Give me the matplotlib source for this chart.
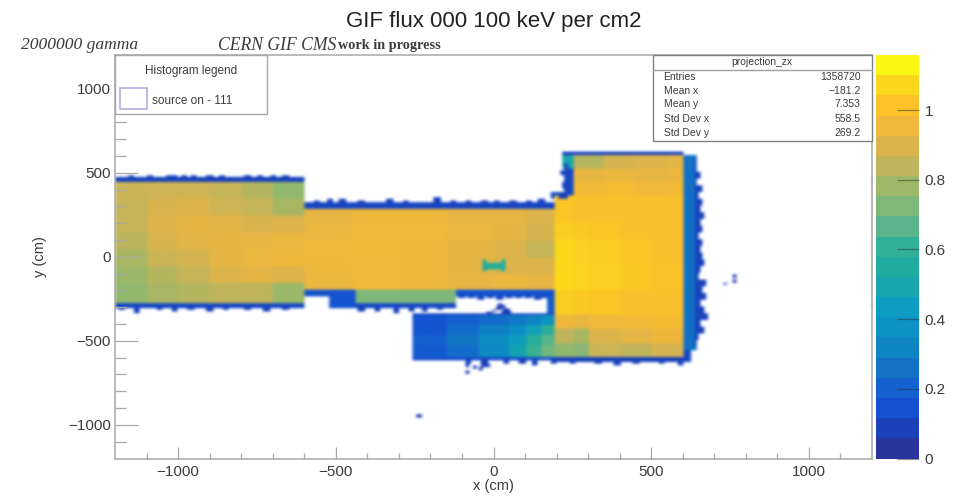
import numpy as np
import matplotlib
matplotlib.use("Agg")
import matplotlib.pyplot as plt
from matplotlib.colors import ListedColormap, LinearSegmentedColormap, Normalize
from matplotlib.patches import Rectangle

W, H = 966, 499
TEXT = "#3c3c3c"
AXIS = "#a8a8a8"

title = "GIF flux 000 100 keV per cm2"
stats_names = ["Entries", "Mean x", "Mean y", "Std Dev x", "Std Dev y"]
stats_values = ["1358720", "\u2212181.2", "7.353", "558.5", "269.2"]

# palette bands, bottom to top of the colour bar
band_colors = ["#2a349e", "#1b40b8", "#1450d0", "#1462d0", "#1272c6", "#0f85c4", "#0c92c4",
               "#0c9dc0", "#18a5ad", "#20aba0", "#30b096", "#5cb58a", "#80b87a", "#9cb868",
               "#c0b45c", "#dcb44c", "#f0b83c", "#fcc228", "#fcd81c", "#fcf614"]
z_max = 1.158

# interior blocks read by eye: x edges, y edges (top down), values
left_x = [-1200, -1100, -1000, -900, -800, -700, -600]
left_y = [442, 340, 240, 140, 40, -60, -160, -280]
left_v = [[.86, .87, .87, .85, .82, .76],
          [.85, .89, .90, .87, .85, .80],
          [.85, .90, .92, .91, .89, .90],
          [.83, .89, .91, .92, .93, .94],
          [.80, .86, .88, .92, .94, .95],
          [.78, .82, .85, .90, .92, .90],
          [.76, .80, .82, .84, .84, .78]]

mid_x = [-600, -450, -300, -150, 0, 100, 195]
mid_y = [284, 190, 90, -10, -110, -200]
mid_v = [[.93, .95, .95, .93, .93, .90],
         [.94, .96, .96, .94, .92, .88],
         [.96, .97, .95, .92, .90, .85],
         [.95, .96, .95, .92, .90, .90],
         [.94, .96, .95, .93, .94, .93]]

upper_x = [252, 350, 450, 550, 600]
upper_y = [596, 520, 440, 357]
upper_v = [[.82, .88, .90, .92],
           [.93, .94, .93, .94],
           [.97, .98, .96, .97]]

right_x = [195, 250, 300, 400, 500, 600]
right_y = [357, 200, 100, -50, -200, -350, -430, -520, -600]
right_v = [[1.02, 1.00, 1.00, 1.00, 1.00],
           [1.04, 1.03, 1.02, 1.00, 1.00],
           [1.07, 1.05, 1.04, 1.02, 1.00],
           [1.07, 1.06, 1.05, 1.03, 1.01],
           [1.04, 1.03, 1.02, 1.00, 1.00],
           [.95, .93, .96, .97, .98],
           [.84, .80, .90, .92, .95],
           [.76, .74, .86, .84, .88]]

lower_x = [-255, -150, -50, 50, 100, 150, 195]
lower_y = [-350, -410, -470, -530, -600]
lower_v = [[.16, .20, .24, .28, .32, .38],
           [.16, .24, .30, .36, .46, .60],
           [.20, .28, .36, .44, .58, .66],
           [.18, .24, .34, .48, .62, .70]]

# flat parts: x0, x1, y0, y1, value
flat_x0 = [-1200, -600, 217, 180, 228, -600, -1200, -520, -440, -440, -120, 170,
           -255, -255, 195, 600, 600, -38, -22, 22, 217]
flat_x1 = [-600, 190, 600, 252, 252, -440, -600, -440, -120, -120, 190, 190,
           190, 190, 600, 640, 622, -22, 22, 37, 252]
flat_y0 = [442, 284, 596, 340, 357, -240, -310, -310, -305, -278, -240, -350,
           -615, -350, -625, -560, -625, -93, -80, -93, 520]
flat_y1 = [470, 318, 618, 380, 520, -200, -280, -240, -278, -200, -200, -235,
           -350, -335, -600, 600, -560, -21, -35, -21, 596]
flat_v = [.10, .12, .10, .14, .12, .16, .12, .16, .12, .72, .16, .18,
          .14, .10, .10, .26, .12, .55, .58, .55, .50]

# ragged outer rim, one bump per entry
top_x = [-1150, -1090, -1030, -1010, -980, -950, -900, -860, -780, -740, -700, -660,
         -560, -520, -480, -420, -330, -280, -210, -180, -130, -80, -30, 10, 60, 110, 150]
top_y = [480, 478, 476, 484, 476, 480, 484, 478, 476, 480, 476, 476,
         332, 336, 340, 328, 336, 328, 324, 352, 330, 332, 326, 330, 332, 330, 336]
bottom_x = [-1180, -1130, -1060, -1010, -960, -900, -850, -780, -720, -660, -420, -370,
            -310, -260, -220, -170, -80, -30, 40, 90, 130, 190, 250, 330, 390, 450, 530, 590]
bottom_y = [-322, -340, -320, -326, -318, -328, -316, -322, -330, -320, -330, -326,
            -340, -325, -330, -318, -640, -660, -640, -640, -652, -636, -640, -638, -645, -636, -640, -648]
rim_y = [600, 560, 520, 480, 440, 400, 360, 320, 280, 240, 200, 160, 120, 80, 40, 0, -40, -80,
         -120, -160, -200, -240, -280, -320, -360, -400, -440, -480, -520, -560, -600]
rim_x = [625, 645, 640, 655, 645, 660, 650, 662, 655, 665, 652, 660, 648, 662, 652, 660, 668, 655,
         650, 670, 660, 672, 652, 664, 678, 655, 668, 650, 640, 628, 618]
left_rim_y = [360, 385, 420, 460, 495, 530]
left_rim_x = [205, 222, 216, 222, 210, 222]

# loose hits outside the body
stray_x = [763, 763, 733, -236, -84, -84, -60, -40, -20, 30, -30, -15, 0, 15, 30, 40, 52, 20, 45]
stray_y = [-117, -152, -165, -950, -650, -690, -660, -670, -650, -330, -345, -335, -325, -310, -300, -315, -345, -290, -330]
gap_x = [-100, -70, -40, -10, 20, 50, 80, 110, 140, 160]
gap_y = [-252, -246, -255, -248, -260, -246, -254, -248, -258, -250]

bin_x = np.arange(-1200, 1201, 6)
bin_y = np.arange(-1200, 1201, 10)


def make_grid():
    z = np.full((len(bin_y) - 1, len(bin_x) - 1), np.nan)
    cx = (bin_x[:-1] + bin_x[1:]) / 2
    cy = (bin_y[:-1] + bin_y[1:]) / 2

    def paint(x0, x1, y0, y1, v):
        ix = (cx >= x0) & (cx < x1)
        iy = (cy >= y0) & (cy < y1)
        z[np.ix_(iy, ix)] = v

    n_base = 15
    for i in range(n_base):
        paint(flat_x0[i], flat_x1[i], flat_y0[i], flat_y1[i], flat_v[i])
    for xs, ys, vs in [(left_x, left_y, left_v), (mid_x, mid_y, mid_v), (upper_x, upper_y, upper_v),
                       (right_x, right_y, right_v), (lower_x, lower_y, lower_v)]:
        for r in range(len(vs)):
            for c in range(len(vs[r])):
                paint(xs[c], xs[c + 1], ys[r + 1], ys[r], vs[r][c])
    for i in range(n_base, len(flat_v)):
        paint(flat_x0[i], flat_x1[i], flat_y0[i], flat_y1[i], flat_v[i])
    for x, y in zip(top_x, top_y):
        base = 442 if x < -600 else 284
        paint(x - 10, x + 10, base + 10, y, .10)
    for x, y in zip(bottom_x, bottom_y):
        base = -300 if y > -500 else -605
        paint(x - 10, x + 10, y, base, .10)
    for x, y in zip(gap_x, gap_y):
        paint(x - 12, x + 12, y, -230, .12)
    for x, y in zip(rim_x, rim_y):
        paint(638, x, y - 20, y + 20, .10)
    for x, y in zip(left_rim_x, left_rim_y):
        paint(x, 232, y - 18, y + 18, .10)
    for x, y in zip(stray_x, stray_y):
        paint(x - 7, x + 7, y - 8, y + 8, .08)
    return np.ma.masked_invalid(z)


def soften(rgba):
    # the reference is a soft screenshot, so blur the drawn colours a little
    out = rgba.copy()
    for axis in (0, 1):
        out = (np.roll(out, 1, axis) + 2 * out + np.roll(out, -1, axis)) / 4
    return out


def px_axes(fig, x0, y0, x1, y1):
    return fig.add_axes([x0 / W, 1 - y1 / H, (x1 - x0) / W, (y1 - y0) / H])


def fig_text(fig, x, y, s, **kw):
    kw.setdefault("color", TEXT)
    kw.setdefault("va", "center")
    fig.text(x / W, 1 - y / H, s, **kw)


def fig_box(fig, x0, y0, x1, y1, edge, lw=1.0):
    fig.add_artist(Rectangle((x0 / W, 1 - y1 / H), (x1 - x0) / W, (y1 - y0) / H, transform=fig.transFigure,
                             facecolor="white", edgecolor=edge, linewidth=lw, zorder=5))


def main():
    plt.rcParams["font.family"] = ["Liberation Sans", "DejaVu Sans"]
    fig = plt.figure(figsize=(W / 100, H / 100), dpi=100)
    levels = np.linspace(0, z_max, len(band_colors) + 1)

    smooth = LinearSegmentedColormap.from_list("bird", band_colors, N=256)
    smooth.set_bad("white")
    # colours sit at the band centres, half a band in from each end
    half = z_max / len(band_colors) / 2
    rgba = smooth(Normalize(half, z_max - half)(make_grid()))

    ax = px_axes(fig, 115, 55, 872, 458.5)
    ax.imshow(soften(rgba), origin="lower", extent=(-1200, 1200, -1200, 1200), aspect="auto",
              interpolation="bilinear")
    ax.set_xlim(-1200, 1200)
    ax.set_ylim(-1200, 1200)
    ax.set_xticks([-1000, -500, 0, 500, 1000])
    ax.set_yticks([-1000, -500, 0, 500, 1000])
    ax.set_xticklabels(["\u22121000", "\u2212500", "0", "500", "1000"])
    ax.set_yticklabels(["\u22121000", "\u2212500", "0", "500", "1000"])
    ax.set_xticks(np.arange(-1100, 1200, 100), minor=True)
    ax.set_yticks(np.arange(-1100, 1200, 100), minor=True)
    ax.tick_params(axis="x", which="major", direction="in", length=9, width=0.9, color=AXIS,
                   labelsize=11, labelcolor=TEXT, pad=5)
    ax.tick_params(axis="x", which="minor", direction="in", length=4.5, width=0.9, color=AXIS)
    ax.tick_params(axis="y", which="major", direction="in", length=16.5, width=0.9, color=AXIS,
                   labelsize=11, labelcolor=TEXT, pad=3)
    ax.tick_params(axis="y", which="minor", direction="in", length=8, width=0.9, color=AXIS)
    ax.set_axisbelow(False)
    for s in ax.spines.values():
        s.set_color(AXIS)
        s.set_linewidth(1.1)

    cax = px_axes(fig, 876, 55, 919, 458.5)
    cax.pcolormesh([0, 1], levels, np.arange(len(band_colors)).reshape(-1, 1),
                   cmap=ListedColormap(band_colors), shading="flat")
    cax.set_xlim(0, 1)
    cax.set_ylim(0, z_max)
    cax.set_xticks([])
    cax.yaxis.tick_right()
    cax.set_yticks([0, .2, .4, .6, .8, 1])
    cax.set_yticklabels(["0", "0.2", "0.4", "0.6", "0.8", "1"])
    cax.tick_params(axis="y", direction="in", length=16, width=0.9, color="#30303080",
                    labelsize=11, labelcolor=TEXT, pad=4)
    for s in cax.spines.values():
        s.set_visible(False)

    fig_text(fig, 493.5, 22, title, ha="center", fontsize=16, color="#222222")
    fig_text(fig, 21, 45, "2000000 gamma", family="Liberation Serif", style="italic", fontsize=12.6)
    fig_text(fig, 218, 45.5, "CERN GIF CMS", family="Liberation Serif", style="italic", fontsize=12.7)
    fig_text(fig, 338, 46, "work in progress", family="Liberation Serif", weight="bold", fontsize=10.3)
    fig_text(fig, 493, 486, "x (cm)", ha="center", fontsize=10.5)
    fig_text(fig, 40, 257, "y (cm)", ha="center", rotation=90, fontsize=10.5)

    # legend box
    fig_box(fig, 115, 55, 267, 114, AXIS)
    fig_text(fig, 191, 71, "Histogram legend", ha="center", fontsize=8.5, zorder=6)
    fig.add_artist(Rectangle((119.5 / W, 1 - 109.5 / H), 27.5 / W, 21 / H, transform=fig.transFigure,
                             facecolor="white", edgecolor="#a8a8dc", linewidth=1.1, zorder=6))
    fig_text(fig, 152, 101, "source on - 111", fontsize=8.5, zorder=6)

    # stats box
    fig_box(fig, 653, 55, 871.5, 141, "#808080")
    fig.add_artist(plt.Line2D([653 / W, 871.5 / W], [1 - 69.5 / H, 1 - 69.5 / H], color="#a0a0a0", lw=1,
                              transform=fig.transFigure, zorder=6))
    fig_text(fig, 762, 62, "projection_zx", ha="center", fontsize=7.5, zorder=6)
    rows = [77, 91, 104, 119.5, 133]
    for y, name, val in zip(rows, stats_names, stats_values):
        fig_text(fig, 663.5, y, name, fontsize=7.5, zorder=6)
        fig_text(fig, 860.5, y, val, ha="right", fontsize=7.5, zorder=6)

    fig.savefig("out.png", dpi=100)


if __name__ == "__main__":
    main()
